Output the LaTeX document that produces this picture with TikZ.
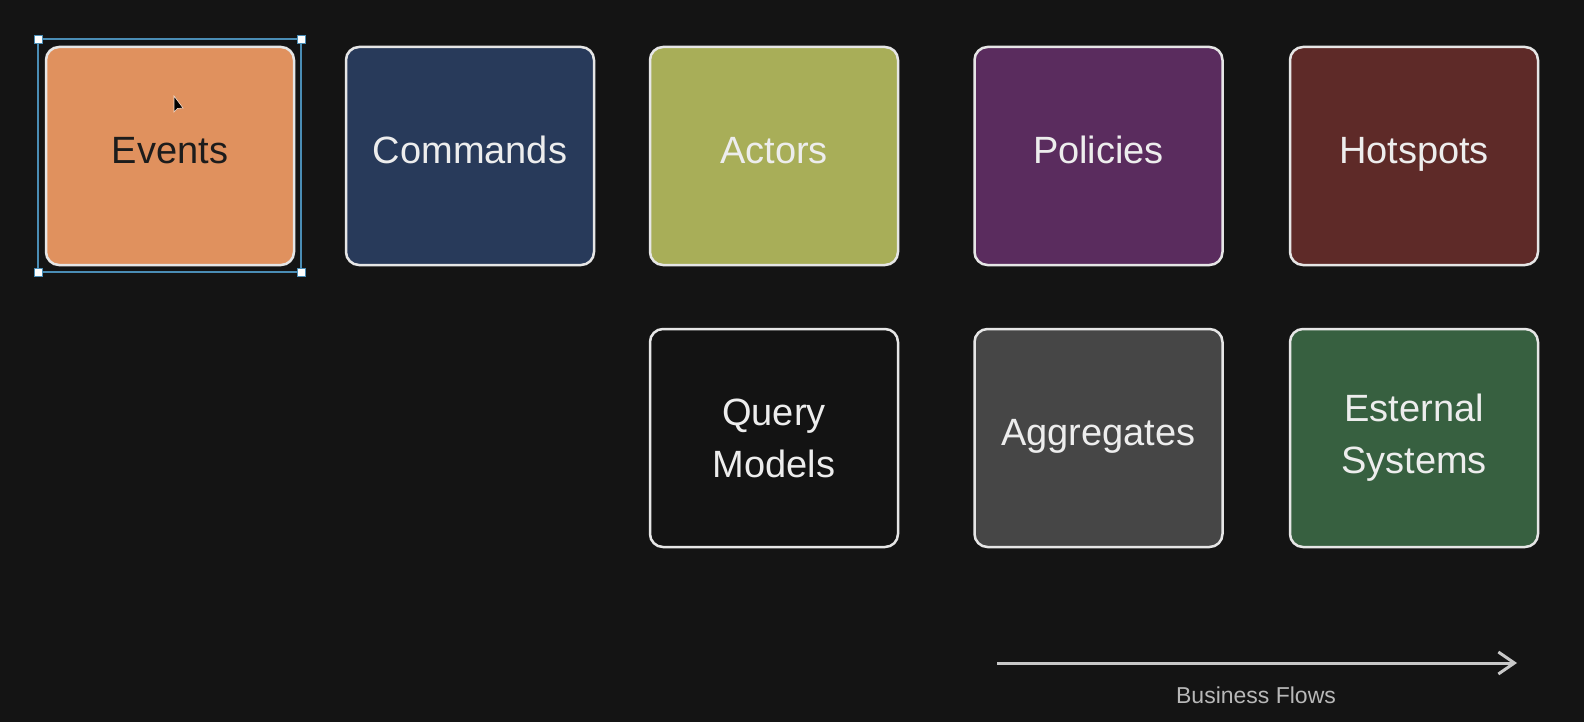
\documentclass[tikz,border=0pt]{standalone}
\usepackage{fontspec}
\setmainfont{Liberation Sans}
\usetikzlibrary{arrows.meta}
\definecolor{bg}{HTML}{141414}
\definecolor{edge}{HTML}{E6E6E6}
\definecolor{evfill}{HTML}{E0915E}
\definecolor{cmdfill}{HTML}{283A5A}
\definecolor{actfill}{HTML}{A8AE58}
\definecolor{polfill}{HTML}{5A2C5E}
\definecolor{hotfill}{HTML}{5E2A28}
\definecolor{qmfill}{HTML}{131313}
\definecolor{aggfill}{HTML}{464646}
\definecolor{extfill}{HTML}{376040}
\definecolor{lighttext}{HTML}{EDEDED}
\definecolor{darktext}{HTML}{1C1C1C}
\definecolor{selblue}{HTML}{4A8DB5}
\definecolor{flowgrey}{HTML}{C8C8C8}
\definecolor{labelgrey}{HTML}{B8B8B8}
\tikzset{
  card/.style={draw=edge, line width=2.5pt, rounded corners=13pt,
    minimum width=248pt, minimum height=218pt, inner sep=0pt,
    align=center, text=lighttext,
    font=\fontsize{38}{52}\selectfont},
  oneline/.style={text height=27pt, text depth=12pt},
  handle/.style={fill=white, draw=selblue, line width=0.8pt, minimum size=8pt, inner sep=0pt},
  flow/.style={draw=flowgrey, line width=3pt, -{Straight Barb[length=16pt,width=22pt,line width=3pt]}},
}
\begin{document}
\begin{tikzpicture}[x=1pt,y=-1pt]
\fill[bg] (0,0) rectangle (1584,722);
\useasboundingbox (0,0) rectangle (1584,722);
% row 1
\node[card, oneline, fill=evfill, text=darktext] (events) at (170,156) {Events};
\node[card, oneline, fill=cmdfill] (commands) at (470,156) {Commands};
\node[card, oneline, fill=actfill] (actors) at (774,156) {Actors};
\node[card, oneline, fill=polfill] (policies) at (1098.5,156) {Policies};
\node[card, oneline, fill=hotfill] (hotspots) at (1414,156) {Hotspots};
% row 2
\node[card, fill=qmfill] (query) at (774,438) {Query\\Models};
\node[card, oneline, fill=aggfill] (aggregates) at (1098.5,438) {Aggregates};
\node[card, fill=extfill] (external) at (1414,438) {Esternal\\Systems};
% selection frame around Events
\draw[selblue, line width=1.6pt] (38,39) rectangle (301,272);
\node[handle] (h1) at (38,39) {};
\node[handle] (h2) at (301,39) {};
\node[handle] (h3) at (38,272) {};
\node[handle] (h4) at (301,272) {};
% mouse cursor
\filldraw[fill=black, draw=white!70!evfill, line width=0.6pt] (174,96) -- (174,112) -- (177.5,108.5) -- (183,108) -- cycle;
% business flow arrow
\coordinate (fs) at (997,663);
\coordinate (fe) at (1517,663);
\draw[flow] (fs) -- (fe);
\node[text=labelgrey, font=\fontsize{23}{28}\selectfont] (flowlabel) at (1256,695) {Business Flows};
\end{tikzpicture}
\end{document}
